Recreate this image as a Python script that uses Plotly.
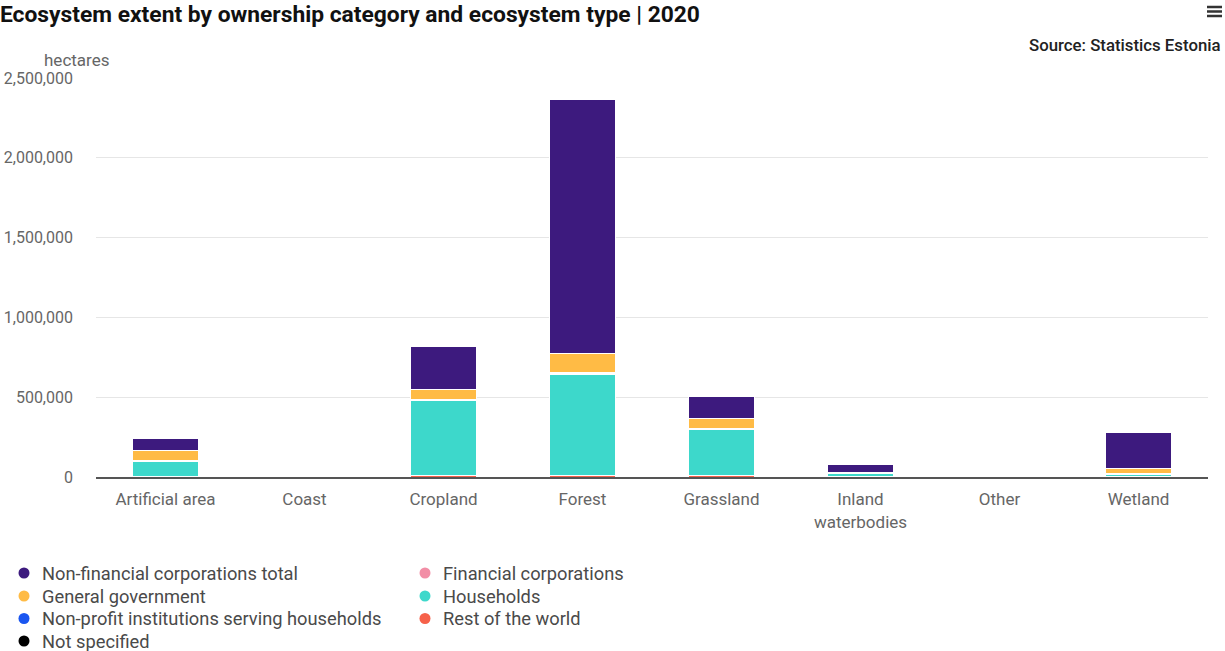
import plotly.graph_objects as go

categories = ["Artificial area", "Coast", "Cropland", "Forest", "Grassland",
              "Inland<br>waterbodies", "Other", "Wetland"]

non_financial = [70000, 0, 267000, 1588000, 140000, 50000, 2000, 223000]
general_gov = [65000, 0, 63000, 120000, 63000, 8000, 500, 33000]
npish = [1000, 0, 2000, 3000, 1000, 200, 0, 500]
not_specified = [500, 0, 1000, 2000, 500, 200, 0, 500]
financial = [2000, 0, 5000, 10000, 3000, 300, 0, 1000]
households = [98000, 0, 471000, 630000, 290000, 22000, 500, 17000]
rest_of_world = [2000, 0, 8000, 10000, 8000, 500, 0, 1000]

series = {
    "Non-financial corporations total": (non_financial, "#3d1a7e"),
    "Financial corporations": (financial, "#f28ea6"),
    "General government": (general_gov, "#ffbb45"),
    "Households": (households, "#3dd8cb"),
    "Non-profit institutions serving households": (npish, "#1a56f0"),
    "Rest of the world": (rest_of_world, "#f6614a"),
    "Not specified": (not_specified, "#000000"),
}
# stacking order bottom -> top
stack_order = ["Rest of the world", "Households", "Financial corporations",
               "Not specified", "Non-profit institutions serving households",
               "General government", "Non-financial corporations total"]
legend_order = list(series.keys())

# plot area in pixels (for placing decorations)
PL, PR, PT, PB = 96, 1208, 78, 477


def px2x(px):
    return (px - PL) / (PR - PL)


def py2y(py):
    return (PB - py) / (PB - PT)


fig = go.Figure()
for name in stack_order:
    vals, col = series[name]
    fig.add_trace(go.Bar(x=categories, y=vals, name=name, showlegend=False,
                         marker=dict(color=col, line=dict(color="white", width=1))))

annotations = [
    dict(text="hectares", xref="paper", yref="paper", x=px2x(76), y=py2y(60),
         xanchor="center", yanchor="middle", showarrow=False,
         font=dict(size=17, color="#666666")),
    dict(text="Source: Statistics Estonia", xref="paper", yref="paper",
         x=px2x(1223), y=py2y(45), xanchor="right", yanchor="middle", showarrow=False,
         font=dict(family="Roboto", size=16.8, color="#222222", weight=500)),
]
shapes = []
# manual legend (row-major, two columns)
col_x = [24, 425]
row_y = [573, 596, 618.5, 641]
for i, name in enumerate(legend_order):
    r, c = divmod(i, 2)
    mx, my = col_x[c], row_y[r]
    shapes.append(dict(type="circle", xref="paper", yref="paper",
                       xsizemode="pixel", ysizemode="pixel",
                       xanchor=px2x(mx), yanchor=py2y(my),
                       x0=-5.5, x1=5.5, y0=-5.5, y1=5.5,
                       fillcolor=series[name][1], line=dict(width=0)))
    annotations.append(dict(text=name, xref="paper", yref="paper",
                            x=px2x(mx + 16), y=py2y(my), xanchor="left",
                            yanchor="middle", showarrow=False,
                            font=dict(size=18.3, color="#4a4a4a")))
# hamburger menu icon
for py in [7, 11.5, 16]:
    shapes.append(dict(type="line", xref="paper", yref="paper",
                       x0=px2x(1207), x1=px2x(1222), y0=py2y(py), y1=py2y(py),
                       line=dict(color="#333333", width=2.5)))

fig.update_layout(
    width=1225, height=651,
    barmode="stack", bargap=0.53,
    plot_bgcolor="white", paper_bgcolor="white",
    font=dict(family="Roboto", size=16, color="#666666"),
    margin=dict(l=PL, r=1225 - PR, t=PT, b=651 - PB, autoexpand=False),
    title=dict(text="<b>Ecosystem extent by ownership category and ecosystem type | 2020</b>",
               x=0, xref="container", xanchor="left", y=1 - 14 / 651, yref="container",
               yanchor="middle", pad=dict(l=0, t=0, r=0, b=0),
               font=dict(family="Roboto", size=22.8, color="#111111")),
    showlegend=False,
    xaxis=dict(showgrid=False, showline=True, linecolor="#555555", linewidth=2,
               ticks="", ticklabelstandoff=6,
               tickfont=dict(size=17, color="#666666"), fixedrange=True),
    yaxis=dict(range=[0, 2500000], tickvals=[0, 500000, 1000000, 1500000, 2000000, 2500000],
               tickformat=",d", showgrid=True, gridcolor="#e6e6e6", gridwidth=1,
               zeroline=False, ticks="", ticklabelstandoff=22,
               tickfont=dict(size=16, color="#666666"), fixedrange=True),
    annotations=annotations,
    shapes=shapes,
)

fig.write_html("out.html", config={"displayModeBar": False},
               post_script="document.body.style.margin='0';")
